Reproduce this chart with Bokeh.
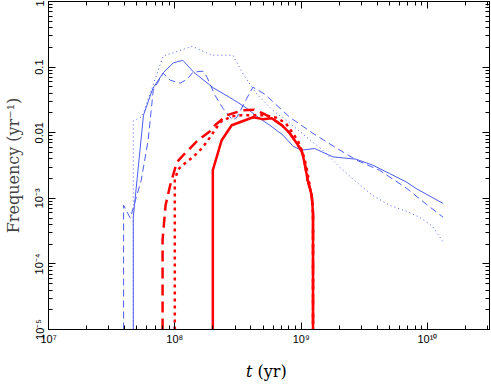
from bokeh.plotting import figure
from bokeh.models import LogAxis, LogTicker, CustomJSTickFormatter, Div
from bokeh.layouts import column
from bokeh.embed import file_html
from bokeh.resources import INLINE

# ---- data ----
# blue thin solid
blue_solid_t = [4.69e7, 4.69e7, 5.65e7, 6.70e7, 8.13e7, 9.75e7, 1.156e8, 1.419e8, 2.02e8, 2.73e8,
                3.59e8, 4.71e8, 5.65e8, 7.19e8, 8.63e8, 1.005e9, 1.279e9, 1.786e9, 2.73e9, 3.69e9,
                5.00e9, 6.78e9, 8.13e9, 1.33e10]
blue_solid_f = [1e-5, 5.15e-4, 1.85e-2, 4.72e-2, 8.28e-2, 0.116, 0.127, 8.28e-2, 4.82e-2, 3.44e-2,
                2.47e-2, 1.64e-2, 1.30e-2, 9.16e-3, 6.22e-3, 5.41e-3, 5.74e-3, 4.28e-3, 3.94e-3, 3.20e-3,
                2.39e-3, 1.78e-3, 1.41e-3, 8.34e-4]
# blue thin dashed
blue_dash_t = [3.93e7, 3.93e7, 4.44e7, 5.42e7, 6.15e7, 6.75e7, 8.09e7, 9.18e7, 1.102e8, 1.250e8,
               1.393e8, 1.671e8, 1.799e8, 2.08e8, 2.40e8, 2.88e8, 3.10e8, 3.72e8, 4.15e8, 5.16e8,
               8.13e8, 1.236e9, 1.91e9, 2.75e9, 4.17e9, 6.81e9, 9.79e9, 1.33e10]
blue_dash_f = [1e-5, 7.85e-4, 4.98e-4, 1.89e-3, 7.69e-3, 4.45e-2, 8.07e-2, 6.32e-2, 5.69e-2, 6.52e-2,
               8.36e-2, 8.67e-2, 7.02e-2, 3.72e-2, 2.36e-2, 1.55e-2, 1.72e-2, 3.36e-2, 4.94e-2, 3.86e-2,
               1.72e-2, 9.82e-3, 5.81e-3, 3.81e-3, 2.68e-3, 1.43e-3, 8.13e-4, 5.15e-4]
# blue thin dotted
blue_dot_t = [4.69e7, 4.69e7, 5.52e7, 8.09e7, 1.371e8, 1.968e8, 2.88e8, 3.52e8, 4.47e8, 5.97e8,
              8.13e8, 1.107e9, 1.483e9, 2.02e9, 2.75e9, 3.67e9, 5.00e9, 6.81e9, 8.63e9, 1.094e10,
              1.242e10, 1.33e10]
blue_dot_f = [1e-5, 1.50e-2, 1.78e-2, 0.147, 0.208, 0.152, 0.152, 7.52e-2, 3.85e-2, 2.19e-2,
              1.40e-2, 8.53e-3, 5.41e-3, 2.98e-3, 1.76e-3, 1.11e-3, 7.85e-4, 6.35e-4, 5.15e-4, 3.76e-4,
              2.64e-4, 2.14e-4]
# red thick solid
red_solid_t = [2.0e8, 2.0e8, 2.35e8, 2.82e8, 4.17e8, 4.98e8, 5.86e8, 7.03e8, 8.13e8, 9.23e8,
               1.012e9, 1.067e9, 1.127e9, 1.213e9, 1.242e9, 1.242e9]
red_solid_f = [1e-5, 2.68e-3, 7.69e-3, 1.30e-2, 1.72e-2, 1.61e-2, 1.66e-2, 1.30e-2, 9.82e-3, 6.92e-3,
               5.22e-3, 3.43e-3, 1.89e-3, 1.11e-3, 5.93e-4, 1e-5]
# red thick dashed
red_dash_t = [8.0e7, 8.0e7, 8.45e7, 9.18e7, 1.038e8, 1.205e8, 1.528e8, 1.901e8, 2.08e8, 2.59e8,
              3.46e8, 4.23e8, 5.16e8, 5.86e8, 7.03e8, 8.13e8, 9.23e8, 1.012e9, 1.067e9, 1.127e9,
              1.213e9, 1.242e9, 1.242e9]
red_dash_f = [1e-5, 2.30e-4, 7.85e-4, 1.57e-3, 3.55e-3, 4.86e-3, 7.69e-3, 1.05e-2, 1.30e-2, 1.85e-2,
              2.20e-2, 2.24e-2, 1.91e-2, 1.66e-2, 1.30e-2, 9.82e-3, 6.92e-3, 5.22e-3, 3.43e-3, 1.89e-3,
              1.11e-3, 5.93e-4, 1e-5]
# red thick dotted
red_dot_t = [1.0e8, 1.0e8, 1.067e8, 1.205e8, 1.393e8, 1.633e8, 1.832e8, 2.15e8, 2.28e8, 2.82e8,
             3.38e8, 4.06e8, 5.16e8, 6.38e8, 7.55e8, 8.59e8, 9.46e8, 1.012e9, 1.067e9, 1.107e9,
             1.169e9, 1.225e9, 1.242e9, 1.242e9]
red_dot_f = [1e-5, 1.95e-3, 2.78e-3, 3.43e-3, 4.24e-3, 5.74e-3, 7.69e-3, 1.21e-2, 1.45e-2, 1.78e-2,
             1.85e-2, 1.85e-2, 1.85e-2, 1.69e-2, 1.40e-2, 9.82e-3, 7.41e-3, 5.41e-3, 3.94e-3, 2.88e-3,
             1.58e-3, 9.35e-4, 5.52e-4, 1e-5]

# tick labels
x_tick_exps = [7, 8, 9, 10]
x_tick_labels = ["10\u2077", "10\u2078", "10\u2079", "10\u00b9\u2070"]
y_tick_exps = [-5, -4, -3, -2, -1, 0]
y_tick_labels = ["10\u207b\u2075", "10\u207b\u2074", "10\u207b\u00b3", "0.01", "0.1", "1"]

x_label_italic = "t"
x_label_rest = "(yr)"
y_label = "Frequency (yr\u207b\u00b9)"

# ---- figure ----
x_lo, x_hi = 1e7, 3.1e10
p = figure(width=491, height=362, x_axis_type="log", y_axis_type="log",
           x_range=(x_lo, x_hi), y_range=(1e-5, 1.0),
           output_backend="svg", toolbar_location=None,
           min_border_left=48, min_border_right=2, min_border_top=1, min_border_bottom=33)
p.xgrid.visible = False
p.ygrid.visible = False
p.outline_line_color = "black"
p.background_fill_color = "white"
p.border_fill_color = "white"

fmt_code = """
const e = Math.round(Math.log10(tick));
const i = exps.indexOf(e);
return i >= 0 ? labels[i] : "";
"""
x_fmt = CustomJSTickFormatter(args=dict(exps=x_tick_exps, labels=x_tick_labels), code=fmt_code)
y_fmt = CustomJSTickFormatter(args=dict(exps=y_tick_exps, labels=y_tick_labels), code=fmt_code)
blank_fmt = CustomJSTickFormatter(code='return "";')


def style_axis(ax):
    ax.axis_line_color = "black"
    ax.major_tick_line_color = "black"
    ax.minor_tick_line_color = "black"
    ax.major_tick_in = 7
    ax.major_tick_out = 0
    ax.minor_tick_in = 4
    ax.minor_tick_out = 0
    ax.major_label_text_font = "Liberation Sans"
    ax.major_label_text_font_size = "11px"
    ax.major_label_text_color = "black"
    ax.major_label_standoff = 3


xa = p.xaxis[0]
ya = p.yaxis[0]
style_axis(xa)
style_axis(ya)
xa.ticker = LogTicker(num_minor_ticks=10)
ya.ticker = LogTicker(num_minor_ticks=10)
xa.formatter = x_fmt
ya.formatter = y_fmt
ya.major_label_orientation = "vertical"
ya.axis_label = y_label
ya.axis_label_text_font = "DejaVu Serif"
ya.axis_label_text_font_style = "normal"
ya.axis_label_text_font_size = "16px"
ya.axis_label_standoff = 8

for loc in ("above", "right"):
    ax = LogAxis(ticker=LogTicker(num_minor_ticks=10), formatter=blank_fmt)
    style_axis(ax)
    ax.major_label_standoff = 0
    p.add_layout(ax, loc)

blue = "#4d5ef2"
red = "#ff0000"
p.line(blue_solid_t, blue_solid_f, line_color=blue, line_width=1)
p.line(blue_dash_t, blue_dash_f, line_color=blue, line_width=1, line_dash="7 4")
p.line(blue_dot_t, blue_dot_f, line_color=blue, line_width=1, line_dash="1 3")
p.line(red_solid_t, red_solid_f, line_color=red, line_width=2.5)
p.line(red_dash_t, red_dash_f, line_color=red, line_width=2.5, line_dash="11 6")
p.line(red_dot_t, red_dot_f, line_color=red, line_width=2.5, line_dash="3 4")

xlabel = Div(
    text=('<div style="position:relative;width:491px;height:22px;">'
          '<span style="position:absolute;left:246px;top:0px;white-space:nowrap;'
          'font-family:\'DejaVu Serif\';font-size:16px;line-height:20px;color:black;">'
          f'<i>{x_label_italic}</i> {x_label_rest}</span></div>'),
    width=491, height=22, margin=0)

open("out.html", "w").write(file_html(column(p, xlabel, spacing=0), INLINE))
